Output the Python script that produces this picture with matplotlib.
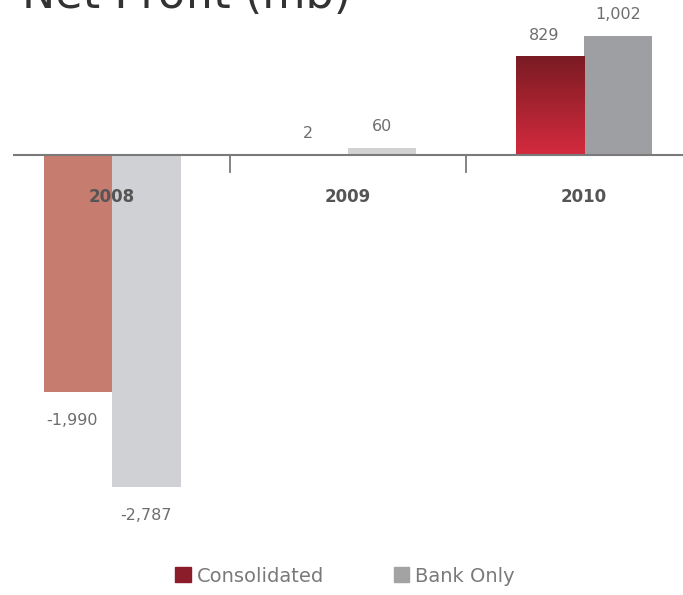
import matplotlib
matplotlib.use("Agg")
import matplotlib.pyplot as plt
import numpy as np
from matplotlib.patches import Patch
from matplotlib.colors import LinearSegmentedColormap

plt.rcParams['font.family'] = ['DejaVu Sans']

# === Data ===
years = ["2008", "2009", "2010"]
consolidated = [-1990, 2, 829]
bank_only = [-2787, 60, 1002]

# per-year bar colours (2010 consolidated gets a gradient on top)
cons_colors = ["#c67c6e", "#c27a6c", "#b8222f"]
bank_colors = ["#cfd1d4", "#d2d2d2", "#9d9fa2"]

W = 0.29
x = np.arange(len(years))
XLIM = (-0.42, 2.42)
YLIM = (-3151, 1134)

fig = plt.figure(figsize=(6.83, 5.95), dpi=100)
ax = fig.add_axes([13 / 683, 1 - 530 / 595, 1 - 13 / 683, 510 / 595])

bars_c = ax.bar(x - W / 2, consolidated, W, color=cons_colors, zorder=2)
bars_b = ax.bar(x + W / 2, bank_only, W, color=bank_colors, zorder=2)

# dark-to-bright red gradient for the 2010 consolidated bar
grad = LinearSegmentedColormap.from_list("red", ["#7a1b23", "#d42b3e"])
b = bars_c[2]
bx, by, bw, bh = b.get_x(), b.get_y(), b.get_width(), b.get_height()
img = ax.imshow(np.linspace(0, 1, 100).reshape(-1, 1), cmap=grad, aspect="auto",
                extent=[bx, bx + bw, by, by + bh], origin="upper", zorder=3)
img.set_clip_path(b)
ax.set_xlim(*XLIM)
ax.set_ylim(*YLIM)

# zero line and group separators
ax.axhline(0, color="#7a7a7a", lw=1.5, zorder=4)
for sep in [0.5, 1.5]:
    ax.plot([sep, sep], [0, -140], color="#7a7a7a", lw=1.3, zorder=4)

for spine in ax.spines.values():
    spine.set_visible(False)
ax.set_xticks([])
ax.set_yticks([])

# category labels under the zero line
for xi, yr in zip(x, years):
    ax.annotate(yr, (xi, 0), xytext=(0, -30), textcoords="offset points",
                ha="center", va="center", fontsize=12, fontweight="bold", color="#555555")

# value labels
def label(bars, vals, dx=0):
    for bar, v in zip(bars, vals):
        cx = bar.get_x() + bar.get_width() / 2
        off = 15 if v >= 0 else -21
        ax.annotate(f"{v:,}", (cx, v), xytext=(dx, off), textcoords="offset points",
                    ha="center", va="center", fontsize=11.5, color="#6e6e6e")

label(bars_c, consolidated, dx=-4)
label(bars_b, bank_only)

# title (partly cut off at the top edge)
fig.text(22 / 683, 1 - 8 / 595, "Net Profit (mb)", fontsize=32, color="#333333",
         ha="left", va="baseline")

# legend
handles = [Patch(color="#8b1d2a", label="Consolidated"),
           Patch(color="#a3a3a3", label="Bank Only")]
leg = fig.legend(handles=handles, loc="center", bbox_to_anchor=(0.505, 1 - 576 / 595),
                 ncol=2, frameon=False, handlelength=0.8, handleheight=0.8,
                 handletextpad=0.3, columnspacing=3.6, fontsize=14)
for t in leg.get_texts():
    t.set_color("#7a7a7a")

fig.savefig("out.png", dpi=100)
